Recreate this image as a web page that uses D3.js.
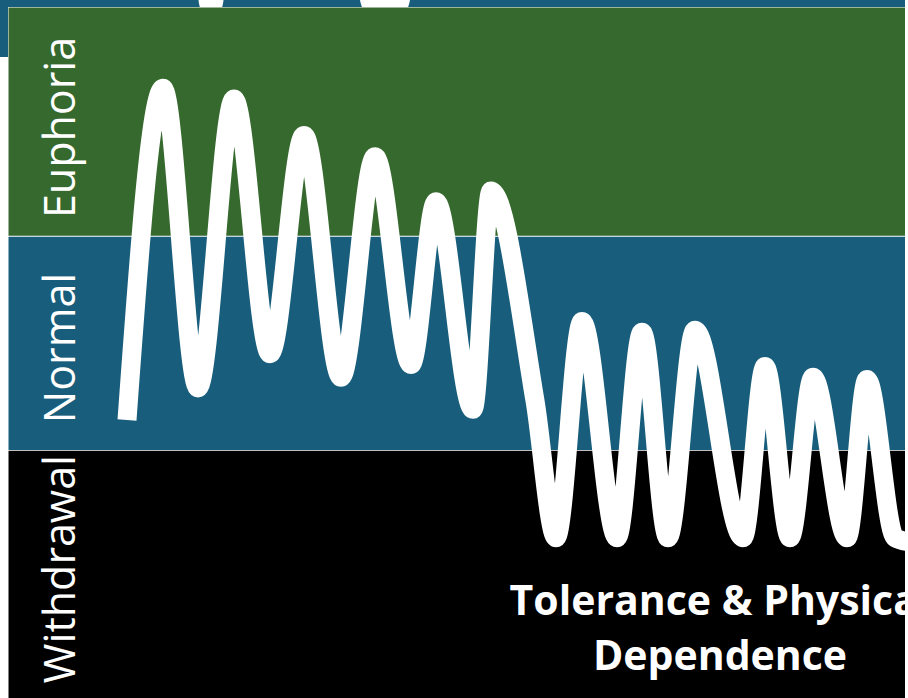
<!DOCTYPE html>
<html lang="en">
<head>
    <meta charset="UTF-8">
    <title>Tolerance & Physical Dependence</title>
    <style>
        body { margin: 0; background: #fff; }
        svg { display: block; }
    </style>
</head>
<body>
    <div class="container"></div>
    <script src="https://cdn.jsdelivr.net/npm/d3@7/dist/d3.min.js"></script>
    <script>
        // Phases (bottom to top) and their level ranges
        const phases = ["Withdrawal", "Normal", "Euphoria"]
        const phaseFrom = [-1.16, 0, 1]
        const phaseTo = [0, 1, 2.07]
        const phaseColors = ["#000000", "#185e7c", "#36692e"]

        // Mood level over time
        const time = [119, 155, 190, 226, 262, 296, 333, 367, 403, 428, 465, 483, 527,
                      548, 574, 609, 634, 660, 687, 735, 757, 782, 805, 839, 859, 887, 902]
        const level = [0.14, 1.69, 0.29, 1.64, 0.45, 1.47, 0.34, 1.37, 0.40, 1.16, 0.19, 1.21, 0.23,
                       -0.41, 0.60, -0.41, 0.55, -0.41, 0.56, -0.41, 0.39, -0.41, 0.34, -0.41, 0.33, -0.41, -0.43]

        const caption = ["Tolerance & Physical", "Dependence"]

        const width = 908
        const height = 698
        const left = 8
        const right = 905

        const svg = d3.select(".container")
                    .append("svg")
                    .attr("width", width)
                    .attr("height", height)

        const xScale = d3.scaleLinear()
                        .domain([0, right - left])
                        .range([left, right])
        const yScale = d3.scaleLinear()
                        .domain([0, 1])
                        .range([450, 236])

        // slide frame bits behind the chart
        svg.append("rect")
            .attr("x", 0).attr("y", 0)
            .attr("width", right).attr("height", 57)
            .attr("fill", "#185e7c")
        svg.append("ellipse")
            .attr("cx", 211).attr("cy", -8).attr("rx", 13).attr("ry", 30)
            .attr("fill", "#fff")
        svg.append("ellipse")
            .attr("cx", 385).attr("cy", -11).attr("rx", 26).attr("ry", 40)
            .attr("fill", "#fff")

        svg.append("clipPath").attr("id", "plot")
            .append("rect")
            .attr("x", left).attr("y", yScale(2.07))
            .attr("width", right - left).attr("height", height - yScale(2.07))

        const chart = svg.append("g").attr("clip-path", "url(#plot)")

        // white backing so separators show
        chart.append("rect")
            .attr("x", left - 2).attr("y", yScale(2.07) - 2)
            .attr("width", right - left + 4).attr("height", height)
            .attr("fill", "#fff")

        chart.selectAll(".band")
            .data(phases)
            .join("rect")
            .attr("class", "band")
            .attr("x", left + 0.5)
            .attr("width", right - left)
            .attr("y", (d, i) => yScale(phaseTo[i]) + (i == 2 ? 0.5 : 0.75))
            .attr("height", (d, i) => yScale(phaseFrom[i]) - yScale(phaseTo[i]) - 0.75)
            .attr("fill", (d, i) => phaseColors[i])

        svg.selectAll(".phase-label")
            .data(phases)
            .join("text")
            .attr("class", "phase-label")
            .attr("transform", (d, i) => {
                const mid = (yScale(phaseFrom[i]) + Math.max(yScale(phaseTo[i]), 7)) / 2
                return `translate(75,${mid + (i == 2 ? 6 : i == 1 ? 5 : -5)}) rotate(-90)`
            })
            .attr("text-anchor", "middle")
            .attr("fill", "#fff")
            .attr("font-family", "'Open Sans', sans-serif")
            .attr("font-weight", 400)
            .attr("font-size", 43)
            .text(d => d)

        const line = d3.line()
                    .x((d, i) => xScale(time[i]))
                    .y(d => yScale(d))
                    .curve(d3.curveMonotoneX)

        chart.append("path")
            .attr("d", line(level))
            .attr("fill", "none")
            .attr("stroke", "#fff")
            .attr("stroke-width", 19)
            .attr("stroke-linecap", "butt")
            .attr("stroke-linejoin", "round")

        chart.append("text")
            .attr("x", 720)
            .attr("y", 615)
            .attr("text-anchor", "middle")
            .attr("fill", "#fff")
            .attr("font-family", "'Open Sans', sans-serif")
            .attr("font-weight", 700)
            .attr("font-size", 41)
            .selectAll("tspan")
            .data(caption)
            .join("tspan")
            .attr("x", 720)
            .attr("dy", (d, i) => i == 0 ? 0 : 55)
            .text(d => d)
    </script>
</body>
</html>
